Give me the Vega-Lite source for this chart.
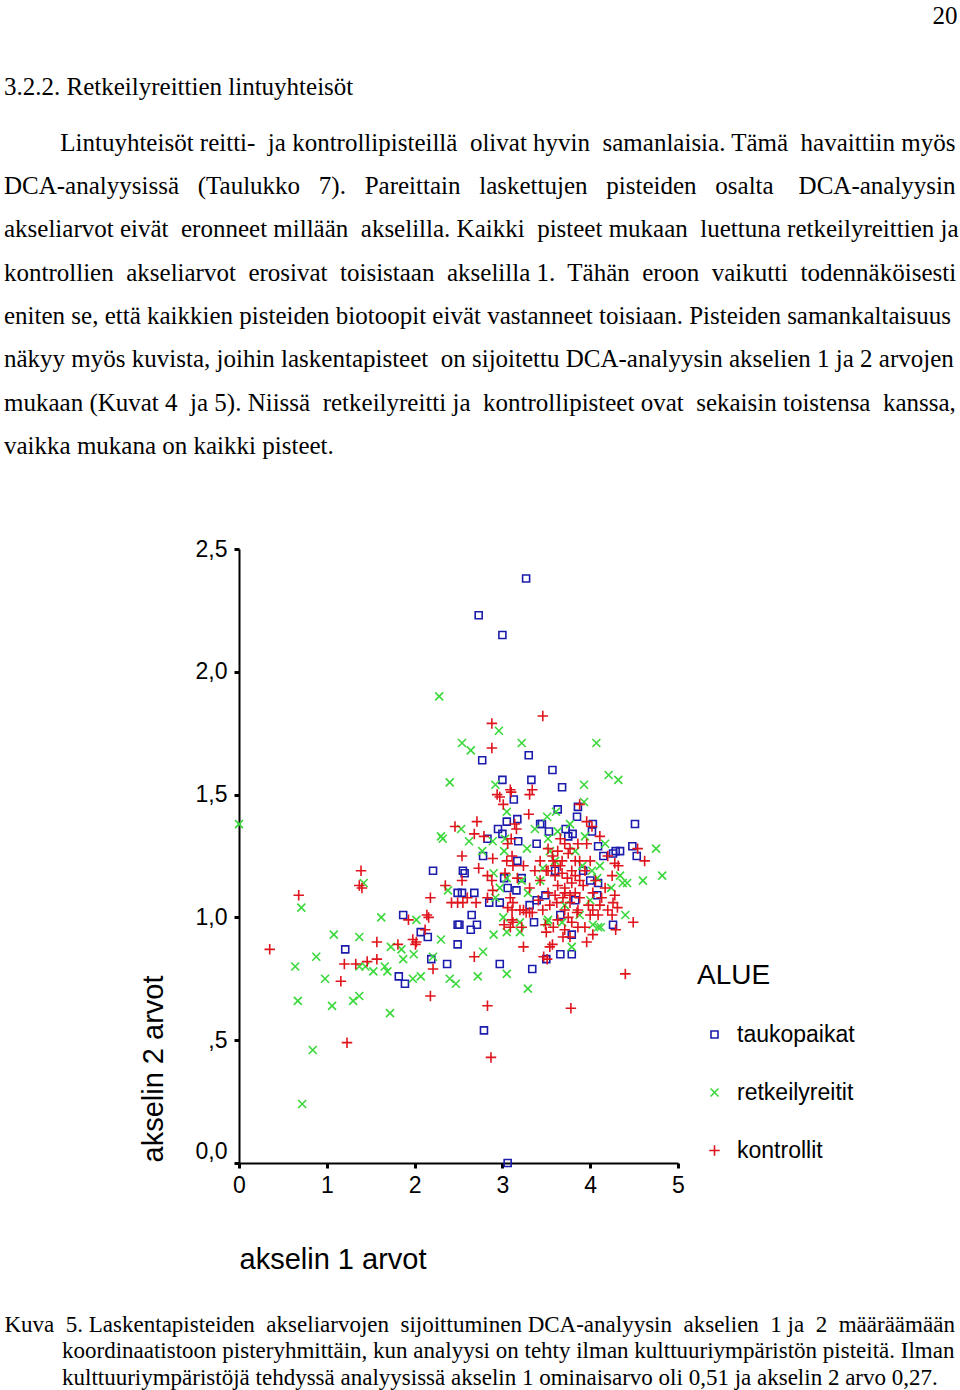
{
"$schema": "https://vega.github.io/schema/vega-lite/v6.json",
"width": 439, "height": 614,
"autosize": {"type": "none"},
"padding": {"left": 239, "top": 549, "right": 282, "bottom": 227},
"background": "white",
"config": {"view": {"stroke": null}, "font": "Liberation Sans"},
"title": {
 "text": "3.2.2. Retkeilyreittien lintuyhteisöt",
 "subtitle": [
  "\u200b\u00a0\u00a0\u00a0\u00a0\u00a0\u00a0\u00a0\u00a0\u00a0Lintuyhteisöt reitti-\u00a0 ja kontrollipisteillä\u00a0 olivat hyvin\u00a0 samanlaisia. Tämä\u00a0 havaittiin myös",
  "DCA-analyysissä\u00a0\u00a0 (Taulukko\u00a0\u00a0 7).\u00a0\u00a0 Pareittain\u00a0\u00a0 laskettujen\u00a0\u00a0 pisteiden\u00a0\u00a0 osalta\u00a0\u00a0\u00a0 DCA-analyysin",
  "akseliarvot eivät\u00a0 eronneet millään\u00a0 akselilla. Kaikki\u00a0 pisteet mukaan\u00a0 luettuna retkeilyreittien ja",
  "kontrollien\u00a0 akseliarvot\u00a0 erosivat\u00a0 toisistaan\u00a0 akselilla 1.\u00a0 Tähän\u00a0 eroon\u00a0 vaikutti\u00a0 todennäköisesti",
  "eniten se, että kaikkien pisteiden biotoopit eivät vastanneet toisiaan. Pisteiden samankaltaisuus",
  "näkyy myös kuvista, joihin laskentapisteet\u00a0 on sijoitettu DCA-analyysin akselien 1 ja 2 arvojen",
  "mukaan (Kuvat 4\u00a0 ja 5). Niissä\u00a0 retkeilyreitti ja\u00a0 kontrollipisteet ovat\u00a0 sekaisin toistensa\u00a0 kanssa,",
  "vaikka mukana on kaikki pisteet."
 ],
 "anchor": "start", "frame": "group", "orient": "top",
 "dx": -235, "offset": -456,
 "font": "Liberation Serif", "fontSize": 25, "fontWeight": "normal", "color": "black",
 "subtitleFont": "Liberation Serif", "subtitleFontSize": 25, "subtitleColor": "black",
 "subtitleLineHeight": 43.3, "subtitlePadding": 31
},
"data": {"values": [
{"alue":"taukopaikat","x":3.27,"y":2.38},{"alue":"taukopaikat","x":2.73,"y":2.23},{"alue":"taukopaikat","x":3.00,"y":2.15},{"alue":"taukopaikat","x":3.06,"y":0.00},
{"alue":"taukopaikat","x":2.79,"y":0.54},{"alue":"taukopaikat","x":1.21,"y":0.87},{"alue":"taukopaikat","x":1.87,"y":1.01},{"alue":"taukopaikat","x":1.82,"y":0.76},
{"alue":"taukopaikat","x":1.89,"y":0.73},{"alue":"taukopaikat","x":2.07,"y":0.94},{"alue":"taukopaikat","x":2.15,"y":0.92},{"alue":"taukopaikat","x":2.19,"y":0.83},
{"alue":"taukopaikat","x":2.37,"y":0.81},{"alue":"taukopaikat","x":2.21,"y":1.19},{"alue":"taukopaikat","x":2.49,"y":1.10},{"alue":"taukopaikat","x":2.49,"y":0.97},
{"alue":"taukopaikat","x":2.49,"y":0.89},{"alue":"taukopaikat","x":2.77,"y":1.64},{"alue":"taukopaikat","x":3.30,"y":1.66},{"alue":"taukopaikat","x":3.57,"y":1.60},
{"alue":"taukopaikat","x":3.00,"y":1.56},{"alue":"taukopaikat","x":3.33,"y":1.56},{"alue":"taukopaikat","x":3.68,"y":1.53},{"alue":"taukopaikat","x":3.13,"y":1.48},
{"alue":"taukopaikat","x":3.17,"y":1.40},{"alue":"taukopaikat","x":3.05,"y":1.39},{"alue":"taukopaikat","x":2.95,"y":1.36},{"alue":"taukopaikat","x":3.00,"y":1.34},
{"alue":"taukopaikat","x":2.83,"y":1.32},{"alue":"taukopaikat","x":3.18,"y":1.31},{"alue":"taukopaikat","x":2.78,"y":1.25},{"alue":"taukopaikat","x":3.17,"y":1.23},
{"alue":"taukopaikat","x":2.55,"y":1.19},{"alue":"taukopaikat","x":2.57,"y":1.18},{"alue":"taukopaikat","x":3.02,"y":1.16},{"alue":"taukopaikat","x":2.68,"y":1.10},
{"alue":"taukopaikat","x":2.54,"y":1.10},{"alue":"taukopaikat","x":3.16,"y":1.11},{"alue":"taukopaikat","x":2.85,"y":1.06},{"alue":"taukopaikat","x":2.97,"y":1.06},
{"alue":"taukopaikat","x":2.65,"y":1.01},{"alue":"taukopaikat","x":2.51,"y":0.97},{"alue":"taukopaikat","x":2.71,"y":0.97},{"alue":"taukopaikat","x":2.64,"y":0.95},
{"alue":"taukopaikat","x":3.36,"y":0.98},{"alue":"taukopaikat","x":2.97,"y":0.81},{"alue":"taukopaikat","x":3.34,"y":0.79},{"alue":"taukopaikat","x":3.63,"y":1.44},
{"alue":"taukopaikat","x":3.86,"y":1.45},{"alue":"taukopaikat","x":3.85,"y":1.41},{"alue":"taukopaikat","x":3.43,"y":1.38},{"alue":"taukopaikat","x":3.53,"y":1.35},
{"alue":"taukopaikat","x":4.03,"y":1.38},{"alue":"taukopaikat","x":4.02,"y":1.35},{"alue":"taukopaikat","x":4.51,"y":1.38},{"alue":"taukopaikat","x":3.72,"y":1.36},
{"alue":"taukopaikat","x":3.80,"y":1.34},{"alue":"taukopaikat","x":4.48,"y":1.29},{"alue":"taukopaikat","x":4.53,"y":1.25},{"alue":"taukopaikat","x":4.26,"y":1.26},
{"alue":"taukopaikat","x":4.29,"y":1.27},{"alue":"taukopaikat","x":4.34,"y":1.27},{"alue":"taukopaikat","x":4.15,"y":1.25},{"alue":"taukopaikat","x":4.26,"y":0.97},
{"alue":"taukopaikat","x":3.79,"y":0.93},{"alue":"taukopaikat","x":3.66,"y":0.85},{"alue":"taukopaikat","x":3.79,"y":0.85},{"alue":"taukopaikat","x":3.50,"y":0.83},
{"alue":"taukopaikat","x":3.45,"y":1.38},{"alue":"taukopaikat","x":3.39,"y":1.30},{"alue":"taukopaikat","x":3.06,"y":1.12},{"alue":"taukopaikat","x":3.22,"y":1.16},
{"alue":"taukopaikat","x":3.39,"y":1.07},{"alue":"taukopaikat","x":3.75,"y":1.33},{"alue":"taukopaikat","x":4.09,"y":1.29},{"alue":"taukopaikat","x":3.92,"y":1.19},
{"alue":"taukopaikat","x":4.09,"y":1.14},{"alue":"taukopaikat","x":4.08,"y":1.09},{"alue":"taukopaikat","x":3.60,"y":1.19},{"alue":"taukopaikat","x":3.49,"y":1.09},
{"alue":"taukopaikat","x":3.83,"y":1.07},{"alue":"taukopaikat","x":3.66,"y":1.01},{"alue":"taukopaikat","x":4.00,"y":1.15},{"alue":"taukopaikat","x":3.31,"y":1.05},
{"alue":"retkeilyreitit","x":0.00,"y":1.38},{"alue":"retkeilyreitit","x":2.28,"y":1.90},{"alue":"retkeilyreitit","x":2.96,"y":1.76},{"alue":"retkeilyreitit","x":2.54,"y":1.71},
{"alue":"retkeilyreitit","x":2.64,"y":1.68},{"alue":"retkeilyreitit","x":3.22,"y":1.71},{"alue":"retkeilyreitit","x":4.07,"y":1.71},{"alue":"retkeilyreitit","x":4.21,"y":1.58},
{"alue":"retkeilyreitit","x":4.32,"y":1.56},{"alue":"retkeilyreitit","x":2.40,"y":1.55},{"alue":"retkeilyreitit","x":2.92,"y":1.54},{"alue":"retkeilyreitit","x":3.93,"y":1.54},
{"alue":"retkeilyreitit","x":3.93,"y":1.47},{"alue":"retkeilyreitit","x":3.05,"y":1.43},{"alue":"retkeilyreitit","x":2.53,"y":1.36},{"alue":"retkeilyreitit","x":2.30,"y":1.33},
{"alue":"retkeilyreitit","x":2.32,"y":1.32},{"alue":"retkeilyreitit","x":2.62,"y":1.31},{"alue":"retkeilyreitit","x":2.89,"y":1.31},{"alue":"retkeilyreitit","x":3.03,"y":1.32},
{"alue":"retkeilyreitit","x":2.77,"y":1.27},{"alue":"retkeilyreitit","x":3.02,"y":1.27},{"alue":"retkeilyreitit","x":2.90,"y":1.18},{"alue":"retkeilyreitit","x":3.05,"y":1.16},
{"alue":"retkeilyreitit","x":2.38,"y":1.11},{"alue":"retkeilyreitit","x":2.97,"y":1.12},{"alue":"retkeilyreitit","x":2.92,"y":1.08},{"alue":"retkeilyreitit","x":3.01,"y":1.00},
{"alue":"retkeilyreitit","x":3.20,"y":0.98},{"alue":"retkeilyreitit","x":2.90,"y":0.93},{"alue":"retkeilyreitit","x":3.05,"y":0.94},{"alue":"retkeilyreitit","x":3.20,"y":0.94},
{"alue":"retkeilyreitit","x":2.30,"y":0.91},{"alue":"retkeilyreitit","x":2.78,"y":0.86},{"alue":"retkeilyreitit","x":2.21,"y":0.84},{"alue":"retkeilyreitit","x":2.72,"y":0.76},
{"alue":"retkeilyreitit","x":3.05,"y":0.77},{"alue":"retkeilyreitit","x":3.29,"y":0.71},{"alue":"retkeilyreitit","x":3.61,"y":1.43},{"alue":"retkeilyreitit","x":3.51,"y":1.41},
{"alue":"retkeilyreitit","x":3.77,"y":1.38},{"alue":"retkeilyreitit","x":3.63,"y":1.35},{"alue":"retkeilyreitit","x":4.75,"y":1.28},{"alue":"retkeilyreitit","x":4.34,"y":1.17},
{"alue":"retkeilyreitit","x":4.42,"y":1.14},{"alue":"retkeilyreitit","x":4.60,"y":1.15},{"alue":"retkeilyreitit","x":4.82,"y":1.17},{"alue":"retkeilyreitit","x":4.24,"y":1.12},
{"alue":"retkeilyreitit","x":4.40,"y":1.01},{"alue":"retkeilyreitit","x":4.12,"y":0.96},{"alue":"retkeilyreitit","x":4.03,"y":0.97},{"alue":"retkeilyreitit","x":3.79,"y":0.88},
{"alue":"retkeilyreitit","x":3.51,"y":0.98},{"alue":"retkeilyreitit","x":2.40,"y":0.75},{"alue":"retkeilyreitit","x":2.47,"y":0.73},{"alue":"retkeilyreitit","x":0.71,"y":1.04},
{"alue":"retkeilyreitit","x":0.64,"y":0.80},{"alue":"retkeilyreitit","x":0.88,"y":0.84},{"alue":"retkeilyreitit","x":1.08,"y":0.93},{"alue":"retkeilyreitit","x":0.98,"y":0.75},
{"alue":"retkeilyreitit","x":0.67,"y":0.66},{"alue":"retkeilyreitit","x":1.06,"y":0.64},{"alue":"retkeilyreitit","x":1.37,"y":0.92},{"alue":"retkeilyreitit","x":1.37,"y":0.80},
{"alue":"retkeilyreitit","x":1.44,"y":0.80},{"alue":"retkeilyreitit","x":1.53,"y":0.78},{"alue":"retkeilyreitit","x":1.37,"y":0.68},{"alue":"retkeilyreitit","x":1.30,"y":0.66},
{"alue":"retkeilyreitit","x":1.62,"y":1.00},{"alue":"retkeilyreitit","x":1.66,"y":0.80},{"alue":"retkeilyreitit","x":1.69,"y":0.78},{"alue":"retkeilyreitit","x":1.72,"y":0.61},
{"alue":"retkeilyreitit","x":0.84,"y":0.46},{"alue":"retkeilyreitit","x":0.72,"y":0.24},{"alue":"retkeilyreitit","x":1.42,"y":1.14},{"alue":"retkeilyreitit","x":2.02,"y":0.99},
{"alue":"retkeilyreitit","x":1.73,"y":0.88},{"alue":"retkeilyreitit","x":1.85,"y":0.87},{"alue":"retkeilyreitit","x":1.87,"y":0.83},{"alue":"retkeilyreitit","x":1.99,"y":0.85},
{"alue":"retkeilyreitit","x":1.98,"y":0.75},{"alue":"retkeilyreitit","x":2.07,"y":0.76},{"alue":"retkeilyreitit","x":3.37,"y":1.36},{"alue":"retkeilyreitit","x":3.52,"y":1.32},
{"alue":"retkeilyreitit","x":3.28,"y":1.28},{"alue":"retkeilyreitit","x":3.22,"y":1.15},{"alue":"retkeilyreitit","x":3.29,"y":1.10},{"alue":"retkeilyreitit","x":3.46,"y":1.20},
{"alue":"retkeilyreitit","x":3.52,"y":0.99},{"alue":"retkeilyreitit","x":3.68,"y":0.98},{"alue":"retkeilyreitit","x":3.94,"y":1.33},{"alue":"retkeilyreitit","x":3.91,"y":1.21},
{"alue":"retkeilyreitit","x":4.02,"y":1.19},{"alue":"retkeilyreitit","x":4.08,"y":1.16},{"alue":"retkeilyreitit","x":4.17,"y":1.30},{"alue":"retkeilyreitit","x":4.37,"y":1.14},
{"alue":"retkeilyreitit","x":4.09,"y":0.96},{"alue":"retkeilyreitit","x":3.60,"y":1.23},{"alue":"retkeilyreitit","x":3.83,"y":1.27},{"alue":"retkeilyreitit","x":3.71,"y":1.05},
{"alue":"retkeilyreitit","x":3.43,"y":1.15},{"alue":"retkeilyreitit","x":4.00,"y":1.07},{"alue":"retkeilyreitit","x":3.88,"y":1.01},{"alue":"retkeilyreitit","x":3.54,"y":1.27},
{"alue":"retkeilyreitit","x":4.11,"y":1.21},
{"alue":"kontrollit","x":3.46,"y":1.82},{"alue":"kontrollit","x":2.88,"y":1.79},{"alue":"kontrollit","x":2.88,"y":1.69},{"alue":"kontrollit","x":3.09,"y":1.52},
{"alue":"kontrollit","x":3.34,"y":1.52},{"alue":"kontrollit","x":2.94,"y":1.50},{"alue":"kontrollit","x":2.97,"y":1.49},{"alue":"kontrollit","x":3.10,"y":1.51},
{"alue":"kontrollit","x":3.31,"y":1.50},{"alue":"kontrollit","x":3.01,"y":1.46},{"alue":"kontrollit","x":3.30,"y":1.42},{"alue":"kontrollit","x":2.71,"y":1.39},
{"alue":"kontrollit","x":2.46,"y":1.37},{"alue":"kontrollit","x":3.16,"y":1.36},{"alue":"kontrollit","x":2.68,"y":1.34},{"alue":"kontrollit","x":2.79,"y":1.33},
{"alue":"kontrollit","x":3.10,"y":1.32},{"alue":"kontrollit","x":2.54,"y":1.25},{"alue":"kontrollit","x":2.89,"y":1.24},{"alue":"kontrollit","x":3.05,"y":1.23},
{"alue":"kontrollit","x":2.73,"y":1.20},{"alue":"kontrollit","x":3.12,"y":1.21},{"alue":"kontrollit","x":2.83,"y":1.17},{"alue":"kontrollit","x":2.54,"y":1.15},
{"alue":"kontrollit","x":2.88,"y":1.15},{"alue":"kontrollit","x":2.35,"y":1.13},{"alue":"kontrollit","x":2.89,"y":1.11},{"alue":"kontrollit","x":2.18,"y":1.08},
{"alue":"kontrollit","x":2.60,"y":1.08},{"alue":"kontrollit","x":2.42,"y":1.06},{"alue":"kontrollit","x":2.49,"y":1.06},{"alue":"kontrollit","x":2.55,"y":1.06},
{"alue":"kontrollit","x":2.70,"y":1.06},{"alue":"kontrollit","x":2.83,"y":1.08},{"alue":"kontrollit","x":3.09,"y":1.08},{"alue":"kontrollit","x":3.12,"y":1.06},
{"alue":"kontrollit","x":3.06,"y":1.04},{"alue":"kontrollit","x":3.20,"y":1.03},{"alue":"kontrollit","x":3.27,"y":1.02},{"alue":"kontrollit","x":3.31,"y":1.02},
{"alue":"kontrollit","x":3.02,"y":0.97},{"alue":"kontrollit","x":3.11,"y":0.99},{"alue":"kontrollit","x":3.24,"y":0.88},{"alue":"kontrollit","x":2.68,"y":0.84},
{"alue":"kontrollit","x":2.21,"y":0.79},{"alue":"kontrollit","x":3.47,"y":0.84},{"alue":"kontrollit","x":3.51,"y":0.83},{"alue":"kontrollit","x":3.88,"y":1.46},
{"alue":"kontrollit","x":3.96,"y":1.39},{"alue":"kontrollit","x":4.02,"y":1.37},{"alue":"kontrollit","x":4.11,"y":1.33},{"alue":"kontrollit","x":4.54,"y":1.28},
{"alue":"kontrollit","x":4.62,"y":1.23},{"alue":"kontrollit","x":4.32,"y":1.21},{"alue":"kontrollit","x":4.28,"y":1.09},{"alue":"kontrollit","x":4.26,"y":1.06},
{"alue":"kontrollit","x":4.31,"y":1.04},{"alue":"kontrollit","x":4.20,"y":1.03},{"alue":"kontrollit","x":4.25,"y":1.01},{"alue":"kontrollit","x":4.49,"y":0.98},
{"alue":"kontrollit","x":4.29,"y":0.95},{"alue":"kontrollit","x":4.03,"y":0.93},{"alue":"kontrollit","x":3.96,"y":0.90},{"alue":"kontrollit","x":3.94,"y":0.96},
{"alue":"kontrollit","x":3.77,"y":0.92},{"alue":"kontrollit","x":3.69,"y":0.92},{"alue":"kontrollit","x":3.58,"y":0.96},{"alue":"kontrollit","x":3.57,"y":0.89},
{"alue":"kontrollit","x":3.54,"y":0.88},{"alue":"kontrollit","x":3.50,"y":0.94},{"alue":"kontrollit","x":4.40,"y":0.77},{"alue":"kontrollit","x":3.78,"y":0.63},
{"alue":"kontrollit","x":2.83,"y":0.64},{"alue":"kontrollit","x":2.87,"y":0.43},{"alue":"kontrollit","x":0.68,"y":1.09},{"alue":"kontrollit","x":0.35,"y":0.87},
{"alue":"kontrollit","x":1.16,"y":0.74},{"alue":"kontrollit","x":1.20,"y":0.81},{"alue":"kontrollit","x":1.33,"y":0.81},{"alue":"kontrollit","x":1.46,"y":0.82},
{"alue":"kontrollit","x":1.57,"y":0.83},{"alue":"kontrollit","x":1.57,"y":0.90},{"alue":"kontrollit","x":1.23,"y":0.49},{"alue":"kontrollit","x":1.37,"y":1.13},
{"alue":"kontrollit","x":1.40,"y":1.12},{"alue":"kontrollit","x":1.39,"y":1.19},{"alue":"kontrollit","x":1.93,"y":0.99},{"alue":"kontrollit","x":2.14,"y":1.01},
{"alue":"kontrollit","x":2.16,"y":1.00},{"alue":"kontrollit","x":2.12,"y":0.95},{"alue":"kontrollit","x":1.81,"y":0.89},{"alue":"kontrollit","x":1.98,"y":0.91},
{"alue":"kontrollit","x":2.02,"y":0.90},{"alue":"kontrollit","x":2.01,"y":0.89},{"alue":"kontrollit","x":2.18,"y":0.68},
{"alue":"kontrollit","x":3.14,"y":1.38},{"alue":"kontrollit","x":3.06,"y":1.30},{"alue":"kontrollit","x":3.11,"y":1.25},{"alue":"kontrollit","x":3.24,"y":1.21},
{"alue":"kontrollit","x":3.03,"y":1.18},{"alue":"kontrollit","x":3.17,"y":1.16},{"alue":"kontrollit","x":3.31,"y":1.12},{"alue":"kontrollit","x":3.43,"y":1.15},
{"alue":"kontrollit","x":3.57,"y":1.25},{"alue":"kontrollit","x":3.63,"y":1.27},{"alue":"kontrollit","x":3.60,"y":1.21},{"alue":"kontrollit","x":3.68,"y":1.18},
{"alue":"kontrollit","x":3.52,"y":1.10},{"alue":"kontrollit","x":3.41,"y":1.07},{"alue":"kontrollit","x":3.62,"y":1.06},{"alue":"kontrollit","x":3.71,"y":1.10},
{"alue":"kontrollit","x":3.11,"y":1.03},{"alue":"kontrollit","x":3.24,"y":1.03},{"alue":"kontrollit","x":3.34,"y":1.02},{"alue":"kontrollit","x":3.46,"y":1.03},
{"alue":"kontrollit","x":3.12,"y":0.98},{"alue":"kontrollit","x":3.22,"y":0.96},{"alue":"kontrollit","x":3.49,"y":0.97},{"alue":"kontrollit","x":3.63,"y":0.99},
{"alue":"kontrollit","x":3.71,"y":1.03},{"alue":"kontrollit","x":3.09,"y":0.96},{"alue":"kontrollit","x":3.86,"y":1.30},{"alue":"kontrollit","x":3.96,"y":1.30},
{"alue":"kontrollit","x":4.20,"y":1.25},{"alue":"kontrollit","x":4.28,"y":1.22},{"alue":"kontrollit","x":3.75,"y":1.26},{"alue":"kontrollit","x":3.83,"y":1.23},
{"alue":"kontrollit","x":3.79,"y":1.19},{"alue":"kontrollit","x":3.88,"y":1.15},{"alue":"kontrollit","x":3.71,"y":1.12},{"alue":"kontrollit","x":3.83,"y":1.10},
{"alue":"kontrollit","x":3.77,"y":1.06},{"alue":"kontrollit","x":3.86,"y":1.03},{"alue":"kontrollit","x":3.75,"y":1.00},{"alue":"kontrollit","x":4.03,"y":1.10},
{"alue":"kontrollit","x":4.13,"y":1.08},{"alue":"kontrollit","x":4.03,"y":1.03},{"alue":"kontrollit","x":3.86,"y":0.96},{"alue":"kontrollit","x":3.79,"y":0.98},
{"alue":"kontrollit","x":3.71,"y":0.95},{"alue":"kontrollit","x":3.85,"y":1.02},{"alue":"kontrollit","x":4.17,"y":1.12},{"alue":"kontrollit","x":4.25,"y":1.17},
{"alue":"kontrollit","x":3.66,"y":1.32},{"alue":"kontrollit","x":3.71,"y":1.30},{"alue":"kontrollit","x":3.77,"y":1.28},{"alue":"kontrollit","x":3.52,"y":1.28},
{"alue":"kontrollit","x":3.58,"y":1.23},{"alue":"kontrollit","x":3.66,"y":1.21},{"alue":"kontrollit","x":3.74,"y":1.16},{"alue":"kontrollit","x":3.79,"y":1.14},
{"alue":"kontrollit","x":3.63,"y":1.13},{"alue":"kontrollit","x":3.69,"y":1.08},{"alue":"kontrollit","x":3.54,"y":1.05},{"alue":"kontrollit","x":3.50,"y":1.19},
{"alue":"kontrollit","x":3.60,"y":1.17},{"alue":"kontrollit","x":3.94,"y":1.19},{"alue":"kontrollit","x":4.00,"y":1.23},{"alue":"kontrollit","x":4.06,"y":1.15},
{"alue":"kontrollit","x":3.88,"y":1.08},{"alue":"kontrollit","x":3.98,"y":1.05},{"alue":"kontrollit","x":4.09,"y":1.01},{"alue":"kontrollit","x":4.11,"y":1.05},
{"alue":"kontrollit","x":3.92,"y":1.13},{"alue":"kontrollit","x":3.83,"y":1.17},{"alue":"kontrollit","x":3.68,"y":1.23},{"alue":"kontrollit","x":3.52,"y":1.19},
{"alue":"kontrollit","x":3.43,"y":1.23},{"alue":"kontrollit","x":3.37,"y":1.19},{"alue":"kontrollit","x":4.00,"y":1.01},{"alue":"kontrollit","x":3.77,"y":1.09},
{"alue":"kontrollit","x":3.60,"y":1.09},{"alue":"kontrollit","x":3.88,"y":1.23}
]},
"layer": [
 {
  "mark": {"type": "point", "filled": false, "size": 100, "strokeWidth": 1.6, "opacity": 1},
  "encoding": {
   "x": {"field": "x", "type": "quantitative",
    "scale": {"domain": [0, 5], "nice": false, "zero": false},
    "axis": {"orient": "bottom", "values": [0,1,2,3,4,5], "format": "d", "grid": false,
     "domainColor": "black", "domainWidth": 2, "tickColor": "black", "tickSize": 5, "tickWidth": 3,
     "labelFont": "Liberation Sans", "labelFontSize": 23, "labelColor": "black", "labelPadding": 6,
     "labelFlush": false, "labelOverlap": false,
     "title": "akselin 1 arvot", "titleFont": "Liberation Sans", "titleFontSize": 29, "titleFontWeight": "normal",
     "titleColor": "black", "titleAlign": "left", "titleAnchor": "start", "titleX": 0, "titleY": 105, "titleBaseline": "alphabetic"}},
   "y": {"field": "y", "type": "quantitative",
    "scale": {"domain": [0, 2.5], "nice": false, "zero": false},
    "axis": {"values": [0,0.5,1,1.5,2,2.5],
     "labelExpr": "datum.value == 0.5 ? ',5' : replace(format(datum.value, '.1f'), '.', ',')",
     "grid": false, "domainColor": "black", "domainWidth": 2, "tickColor": "black", "tickSize": 5, "tickWidth": 3,
     "labelFont": "Liberation Sans", "labelFontSize": 23, "labelColor": "black", "labelPadding": 7,
     "labelFlush": false, "labelOverlap": false,
     "labelBaseline": {"condition": {"test": "datum.value === 0", "value": "bottom"}, "value": "middle"},
     "title": "akselin 2 arvot", "titleFont": "Liberation Sans", "titleFontSize": 29, "titleFontWeight": "normal",
     "titleColor": "black", "titleAngle": -90, "titleAlign": "left", "titleX": -77, "titleY": 613, "titleBaseline": "alphabetic"}},
   "shape": {"field": "alue", "type": "nominal",
    "scale": {"domain": ["taukopaikat", "retkeilyreitit", "kontrollit"],
     "range": ["M-0.7,-0.7L0.7,-0.7L0.7,0.7L-0.7,0.7Z", "M-0.8,-0.8L0.8,0.8M-0.8,0.8L0.8,-0.8", "M-1.05,0L1.05,0M0,-1.05L0,1.05"]},
    "legend": {"title": "ALUE", "orient": "none", "legendX": 458, "legendY": 413, "padding": 0,
     "titleFont": "Liberation Sans", "titleFontSize": 28, "titleFontWeight": "normal", "titleColor": "black", "titlePadding": 33,
     "labelFont": "Liberation Sans", "labelFontSize": 23, "labelColor": "black", "labelOffset": 11,
     "symbolSize": 100, "symbolStrokeWidth": 1.6, "symbolOffset": 6, "rowPadding": 34}},
   "color": {"field": "alue", "type": "nominal",
    "scale": {"domain": ["taukopaikat", "retkeilyreitit", "kontrollit"], "range": ["#1c1cac", "#3ad83a", "#e0141c"]},
    "legend": {"title": "ALUE", "orient": "none", "legendX": 458, "legendY": 413, "padding": 0,
     "titleFont": "Liberation Sans", "titleFontSize": 28, "titleFontWeight": "normal", "titleColor": "black", "titlePadding": 33,
     "labelFont": "Liberation Sans", "labelFontSize": 23, "labelColor": "black", "labelOffset": 11,
     "symbolSize": 100, "symbolStrokeWidth": 1.6, "symbolOffset": 6, "rowPadding": 34}}
  }
 },
 {
  "transform": [{"filter": "false"}],
  "mark": {"type": "point", "opacity": 0},
  "encoding": {
   "x": {"field": "x", "type": "quantitative",
    "axis": {"orient": "top", "domain": false, "ticks": false, "labels": false, "grid": false,
     "title": "20", "titleFont": "Liberation Serif", "titleFontSize": 25, "titleFontWeight": "normal", "titleColor": "black",
     "titleAlign": "right", "titleX": 718, "titleY": -526, "titleBaseline": "alphabetic"}}
  }
 },
 {
  "transform": [{"filter": "false"}],
  "mark": {"type": "point", "opacity": 0},
  "encoding": {
   "x": {"field": "x", "type": "quantitative",
    "axis": {"orient": "bottom", "domain": false, "ticks": false, "labels": false, "grid": false,
     "title": [
      "Kuva\u00a0 5. Laskentapisteiden\u00a0 akseliarvojen\u00a0 sijoittuminen DCA-analyysin\u00a0 akselien\u00a0 1 ja\u00a0 2\u00a0 määräämään",
      "\u200b\u00a0\u00a0\u00a0\u00a0\u00a0\u00a0\u00a0\u00a0\u00a0\u00a0koordinaatistoon pisteryhmittäin, kun analyysi on tehty ilman kulttuuriympäristön pisteitä. Ilman",
      "\u200b\u00a0\u00a0\u00a0\u00a0\u00a0\u00a0\u00a0\u00a0\u00a0\u00a0kulttuuriympäristöjä tehdyssä analyysissä akselin 1 ominaisarvo oli 0,51 ja akselin 2 arvo 0,27."
     ],
     "titleFont": "Liberation Serif", "titleFontSize": 23, "titleFontWeight": "normal", "titleColor": "black",
     "titleLineHeight": 26.5, "titleAlign": "left", "titleX": -235, "titleY": 150, "titleBaseline": "top"}}
  }
 }
],
"resolve": {"axis": {"x": "independent"}}
}
